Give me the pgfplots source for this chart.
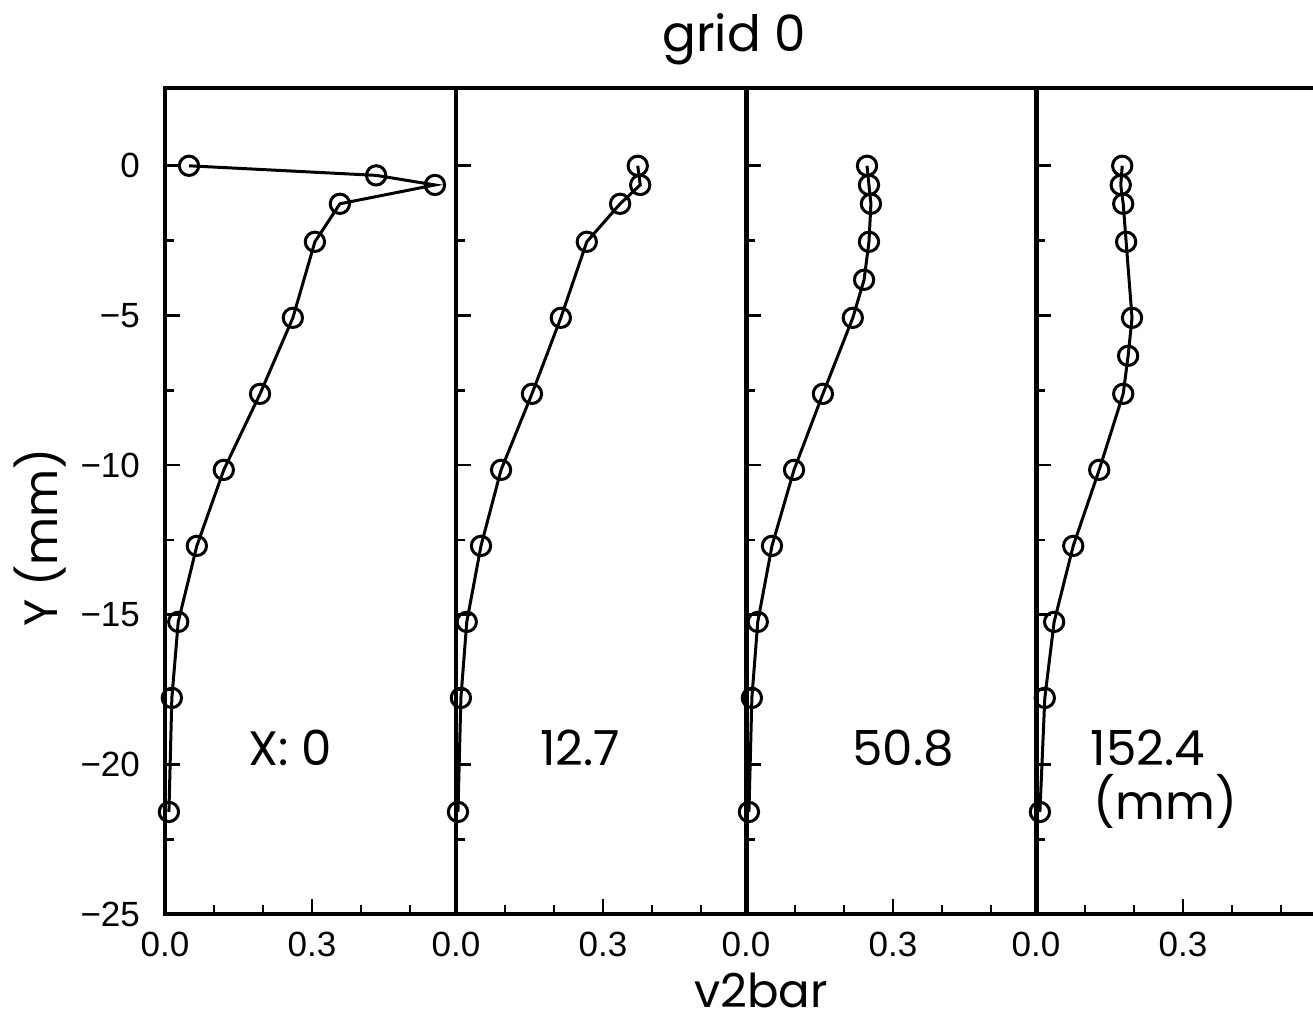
\documentclass[border=0pt]{standalone}
\usepackage{pgfplots}
\pgfplotsset{compat=1.18}
\usepackage{fontspec}
\setmainfont{Liberation Sans}
\newfontfamily\geo{Poppins}

\pgfplotsset{
  panel/.style={
    scale only axis, width=87.3pt, height=247.8pt, anchor=south west,
    xmin=0, xmax=0.594, ymin=-25, ymax=2.6,
    xtick={0,0.3}, xticklabels={0.0,0.3},
    minor xtick={0.1,0.2,0.4,0.5},
    ytick={-25,-20,-15,-10,-5,0},
    minor ytick={-22.5,-17.5,-12.5,-7.5,-2.5},
    tick pos=left,
    axis line style={line width=1.3pt},
    major tick length=4.5pt, minor tick length=2.8pt,
    every tick/.style={line width=0.8pt, black},
    /pgf/number format/assume math mode=true,
    tick label style={font=\fontsize{10.5}{12}\selectfont},
    xticklabel style={yshift=-2pt},
    yticklabel style={xshift=-4pt},
  },
  prof/.style={black, line width=0.9pt, mark=o, mark size=2.9pt, mark options={line width=0.9pt, fill=none}},
}

\begin{document}
\begin{tikzpicture}
\begin{axis}[panel, at={(49.5pt,33pt)}, yticklabels={−25,−20,−15,−10,−5,0}]
\addplot[prof] coordinates {
(0.049,0) (0.431,-0.32) (0.551,-0.64) (0.357,-1.27) (0.306,-2.54) (0.261,-5.08)
(0.194,-7.62) (0.120,-10.16) (0.065,-12.70) (0.027,-15.24) (0.014,-17.78) (0.008,-21.59)};
\end{axis}
\begin{axis}[panel, at={(136.8pt,33pt)}, yticklabels={}]
\addplot[prof] coordinates {
(0.371,0) (0.376,-0.64) (0.335,-1.27) (0.267,-2.54) (0.214,-5.08) (0.155,-7.62)
(0.092,-10.16) (0.051,-12.70) (0.022,-15.24) (0.010,-17.78) (0.004,-21.59)};
\end{axis}
\begin{axis}[panel, at={(223.8pt,33pt)}, yticklabels={}]
\addplot[prof] coordinates {
(0.247,0) (0.251,-0.64) (0.255,-1.27) (0.251,-2.54) (0.241,-3.81) (0.218,-5.08)
(0.157,-7.62) (0.098,-10.16) (0.053,-12.70) (0.024,-15.24) (0.012,-17.78) (0.006,-21.59)};
\end{axis}
\begin{axis}[panel, at={(310.8pt,33pt)}, yticklabels={}]
\addplot[prof] coordinates {
(0.176,0) (0.173,-0.64) (0.178,-1.27) (0.184,-2.54) (0.196,-5.08) (0.188,-6.35)
(0.178,-7.62) (0.129,-10.16) (0.076,-12.70) (0.037,-15.24) (0.018,-17.78) (0.008,-21.59)};
\end{axis}
\node[anchor=base] at (220.2pt,291.6pt) {\geo\fontsize{15}{18}\selectfont grid 0};
\node[anchor=base] at (228.3pt,5pt) {\geo\fontsize{14}{18}\selectfont v2bar};
\node[rotate=90] at (12pt,146.1pt) {\geo\fontsize{14}{18}\selectfont Y (mm)};
\node[anchor=base] at (87pt,77.4pt) {\geo\fontsize{14.5}{18}\selectfont X: 0};
\node[anchor=base] at (174pt,77.4pt) {\geo\fontsize{14.5}{18}\selectfont 12.7};
\node[anchor=base] at (270.9pt,77.4pt) {\geo\fontsize{14.5}{18}\selectfont 50.8};
\node[anchor=base west, inner sep=0pt] at (327pt,77.4pt) {\geo\fontsize{14.5}{18}\selectfont 152.4};
\node[anchor=base west, inner sep=0pt] at (327.9pt,61.2pt) {\geo\fontsize{14.5}{18}\selectfont (mm)};
\pgfresetboundingbox
\path[use as bounding box] (0pt,0pt) rectangle (393.9pt,307.2pt);
\end{tikzpicture}
\end{document}
